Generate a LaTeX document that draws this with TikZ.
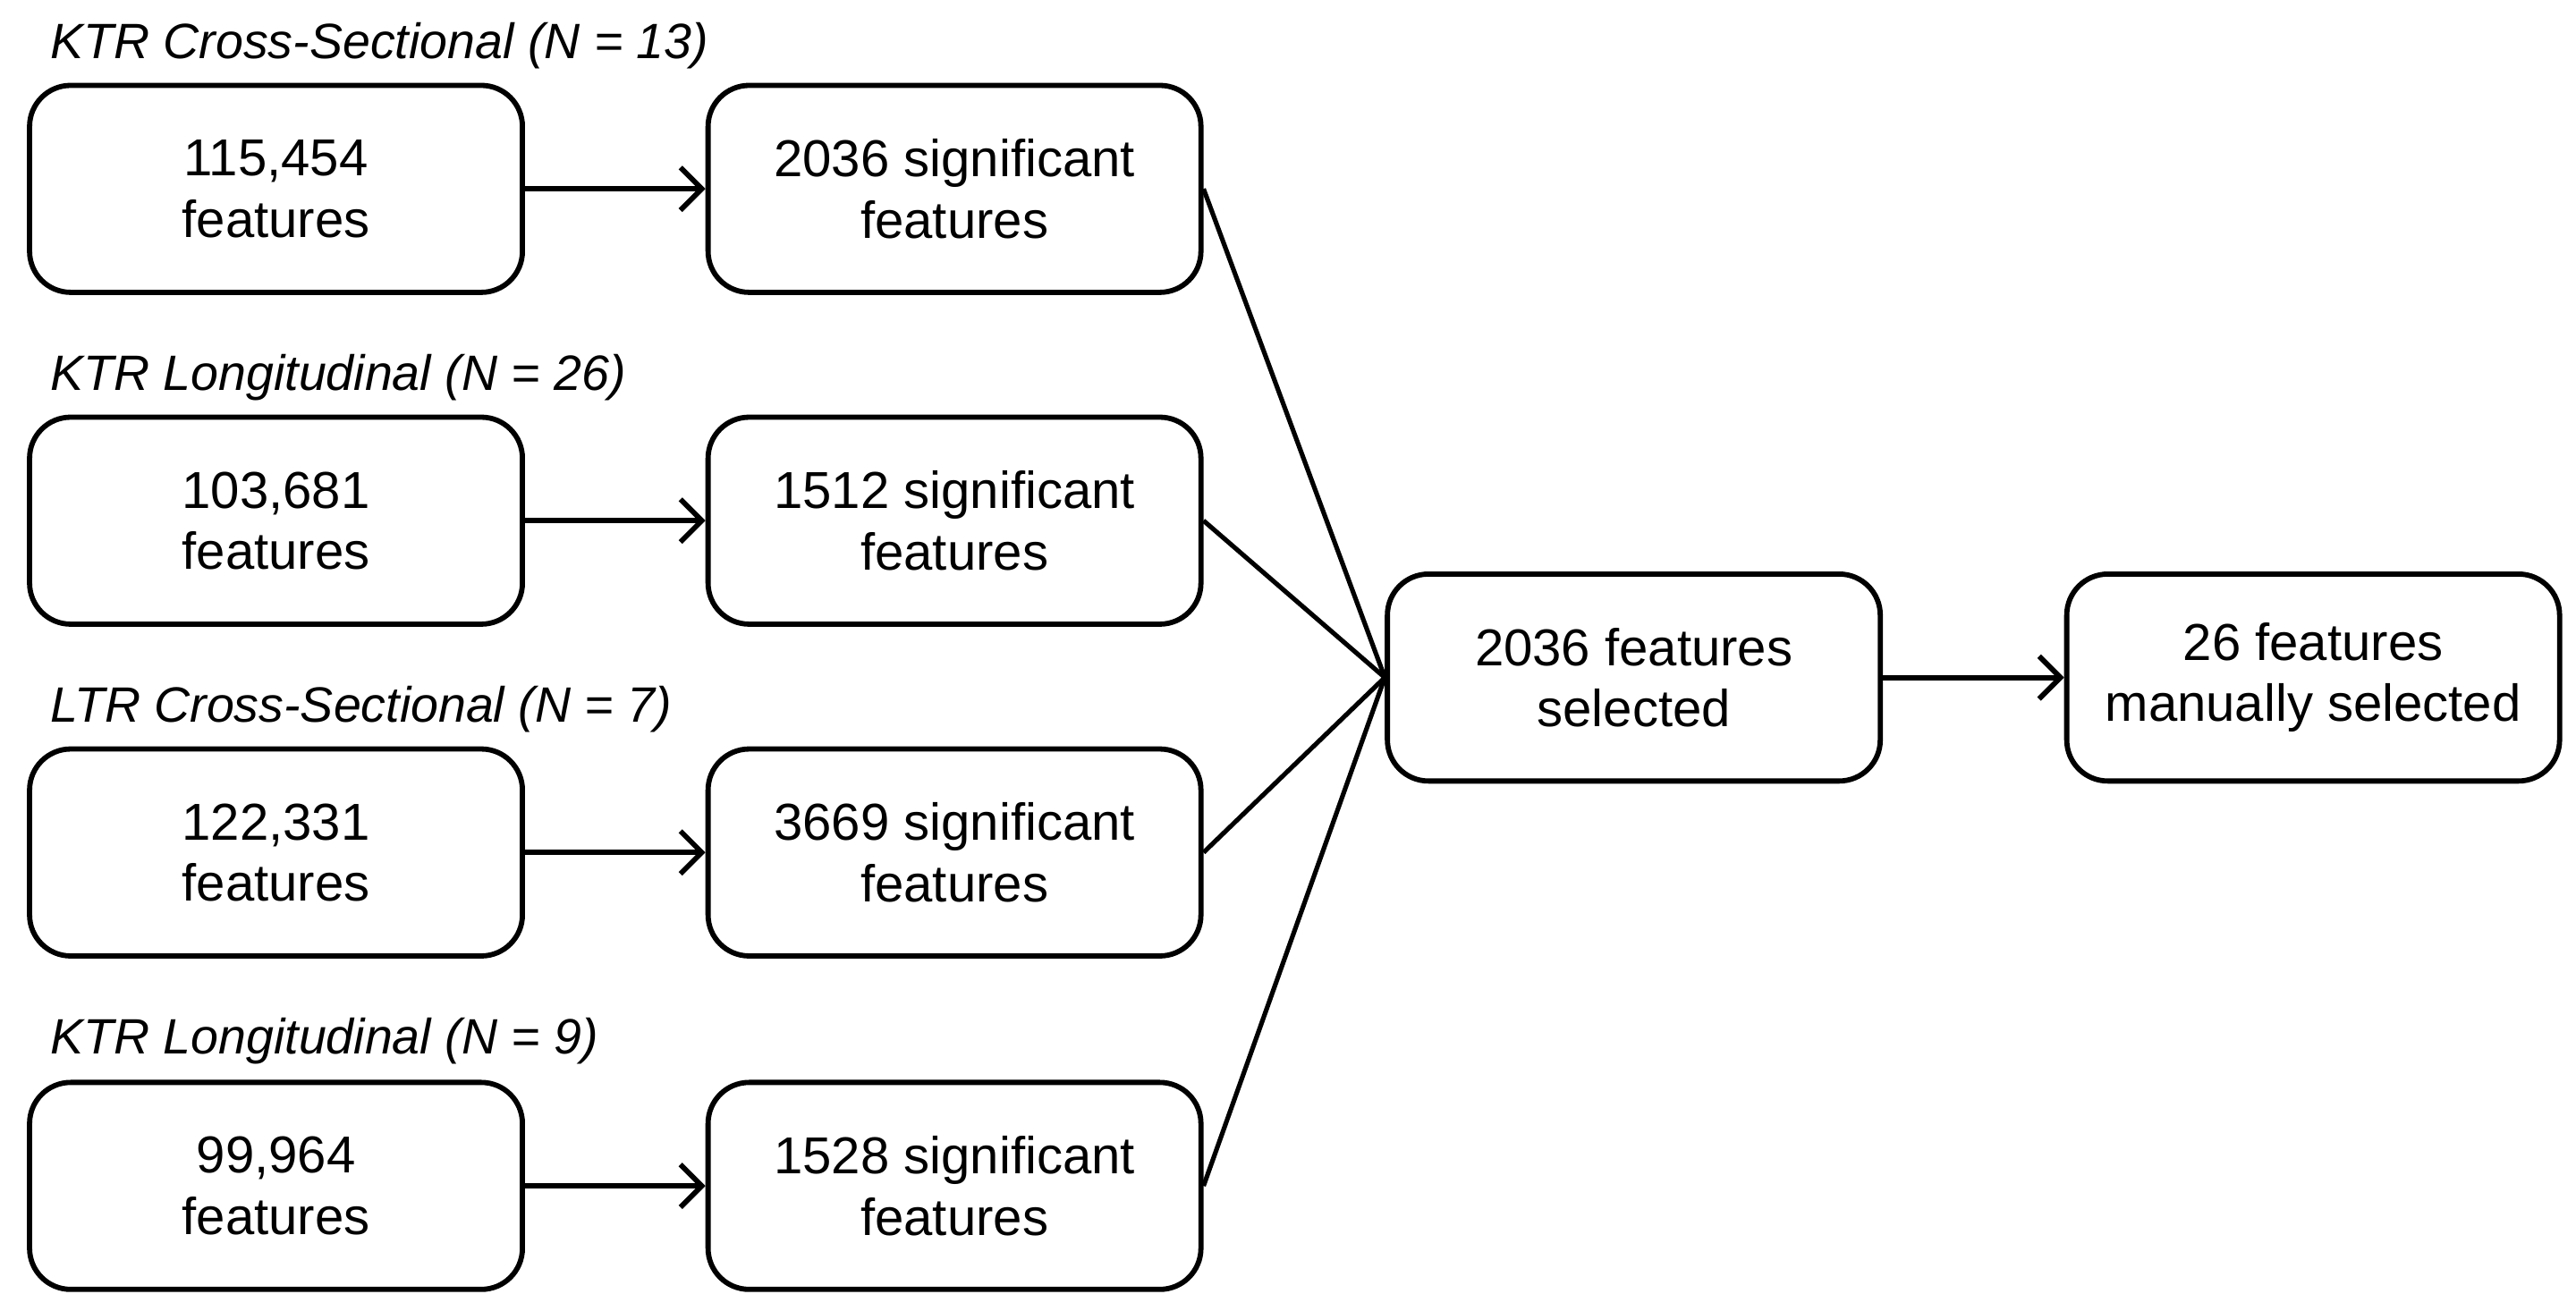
\documentclass[tikz,border=0pt]{standalone}
\usepackage{fontspec}
\setmainfont{Liberation Sans}
\usetikzlibrary{arrows.meta}
\begin{document}
\begin{tikzpicture}[>={Straight Barb[length=1.3mm,width=2.6mm]},
  featbox/.style={draw,line width=0.9pt,rounded corners=0.25cm,minimum width=3cm,
    minimum height=1.26cm,align=center,inner sep=0pt,font=\fontsize{9}{10.6}\selectfont},
  grouplabel/.style={anchor=west,inner sep=0pt,font=\fontsize{8.6}{10}\selectfont\itshape},
  feed/.style={->,line width=0.9pt},
  merge/.style={line width=0.8pt}]
\useasboundingbox (0,0) rectangle (15.68,-7.98);
% cohort labels
\node[grouplabel] (lab1) at (0.30,-0.28) {KTR Cross-Sectional (N = 13)};
\node[grouplabel] (lab2) at (0.30,-2.30) {KTR Longitudinal (N = 26)};
\node[grouplabel] (lab3) at (0.30,-4.32) {LTR Cross-Sectional (N = 7)};
\node[grouplabel] (lab4) at (0.30,-6.34) {KTR Longitudinal (N = 9)};
% all features
\node[featbox] (all1) at (1.68,-1.15) {115,454\\features};
\node[featbox] (all2) at (1.68,-3.17) {103,681\\features};
\node[featbox] (all3) at (1.68,-5.19) {122,331\\features};
\node[featbox] (all4) at (1.68,-7.22) {99,964\\features};
% significant features
\node[featbox] (sig1) at (5.81,-1.15) {2036 significant\\features};
\node[featbox] (sig2) at (5.81,-3.17) {1512 significant\\features};
\node[featbox] (sig3) at (5.81,-5.19) {3669 significant\\features};
\node[featbox] (sig4) at (5.81,-7.22) {1528 significant\\features};
% selection
\node[featbox] (sel) at (9.945,-4.125) {2036 features\\selected};
\node[featbox] (man) at (14.08,-4.125) {26 features\\manually selected};
% connectors
\draw[feed] (all1) -- (sig1);
\draw[feed] (all2) -- (sig2);
\draw[feed] (all3) -- (sig3);
\draw[feed] (all4) -- (sig4);
\draw[merge] (sig1.east) -- (sel.west);
\draw[merge] (sig2.east) -- (sel.west);
\draw[merge] (sig3.east) -- (sel.west);
\draw[merge] (sig4.east) -- (sel.west);
\draw[feed] (sel) -- (man);
\end{tikzpicture}
\end{document}
